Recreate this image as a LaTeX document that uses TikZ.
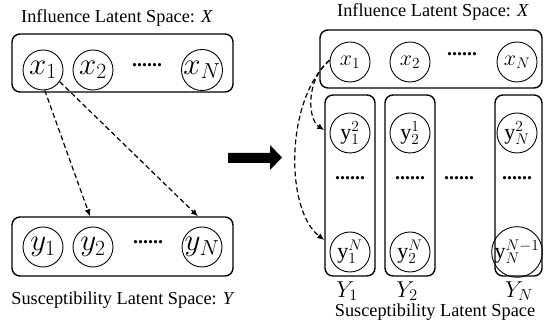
\documentclass[tikz,border=0pt]{standalone}
\usepackage{fix-cm}
\usepackage{fontspec}
\setmainfont{Liberation Serif}
\usetikzlibrary{arrows.meta}
\begin{document}
\begin{tikzpicture}[x=1pt,y=-1pt,
  box/.style={draw, line width=1.4pt, rounded corners=8pt, inner sep=0pt},
  var/.style={draw, circle, line width=0.9pt, minimum size=40pt, inner sep=0pt},
  bigvar/.style={var, font=\fontsize{31}{33}\selectfont},
  smallvar/.style={var, font=\fontsize{22}{24}\selectfont},
  lbl/.style={font=\fontsize{18.3}{21}\selectfont, inner sep=0pt},
  mlbl/.style={font=\fontsize{23}{25}\selectfont, inner sep=0pt},
  dots/.style={font=\fontsize{20}{22}\selectfont\bfseries, inner sep=0pt},
  dasharrow/.style={line width=1.2pt, dash pattern=on 5pt off 3pt, -{Latex[length=7pt,width=6pt]}},
]
\useasboundingbox (0,0) rectangle (544,328);

% ---------- left panel ----------
\node[lbl] (tl) at (117,18) {Influence Latent Space: \textit{X}};
\node[box, minimum width=221pt, minimum height=58pt] (Xbox) at (122.5,63) {};
\node[bigvar] (x1) at (43,70) {$x_1$};
\node[bigvar] (x2) at (93,70) {$x_2$};
\node[dots] (xd) at (147,65) {......};
\node[bigvar] (xN) at (202,70) {$x_N$};

\node[box, minimum width=221pt, minimum height=59pt] (Ybox) at (122.5,246.5) {};
\node[bigvar] (y1) at (43,247) {$y_1$};
\node[bigvar] (y2) at (93,247) {$y_2$};
\node[dots] (yd) at (148,242) {......};
\node[bigvar] (yN) at (202,247) {$y_N$};
\node[lbl] (bl) at (123,300) {Susceptibility Latent Space: \textit{Y}};

\coordinate (t2) at ([xshift=-3pt]y2.north |- Ybox.north);
\coordinate (tN) at ([xshift=-4pt]yN.north |- Ybox.north);
\draw[dasharrow] (x1.-85) -- (t2);
\draw[dasharrow] (x1.-35) -- (tN);

% ---------- big arrow ----------
\fill (228,153) -- (270,153) -- (270,145) -- (282,157.5) -- (270,170) -- (270,163) -- (228,163) -- cycle;

% ---------- right panel ----------
\node[lbl] (tr) at (433,12) {Influence Latent Space: \textit{X}};
\node[box, minimum width=222pt, minimum height=58pt] (RXbox) at (431,59) {};
\node[smallvar] (rx1) at (350,62) {$x_1$};
\node[smallvar] (rx2) at (410,62) {$x_2$};
\node[dots] (rxd) at (462,54) {......};
\node[smallvar] (rxN) at (517,62) {$x_N$};

\node[box, minimum width=50pt, minimum height=181pt] (C1) at (350,185.5) {};
\node[box, minimum width=50pt, minimum height=181pt] (C2) at (410,185.5) {};
\node[box, minimum width=47pt, minimum height=181pt] (CN) at (518.5,185.5) {};

\node[smallvar] (a1) at (350,133) {$\mathrm{y}_1^2$};
\node[smallvar] (a2) at (410,133) {$\mathrm{y}_2^1$};
\node[smallvar] (aN) at (517,133) {$\mathrm{y}_N^2$};
\node[dots] (d1) at (350,178) {......};
\node[dots] (d2) at (410,178) {......};
\node[dots] (dm) at (459,178) {......};
\node[dots] (dN) at (517,178) {......};
\node[smallvar] (b1) at (350,252) {$\mathrm{y}_1^N$};
\node[smallvar] (b2) at (410,252) {$\mathrm{y}_2^N$};
\node[smallvar] (bN) at (517,252) {$\mathrm{y}_N^{N-1}$};

\node[mlbl] (L1) at (347,291) {$Y_1$};
\node[mlbl] (L2) at (407,291) {$Y_2$};
\node[mlbl] (LN) at (519,291) {$Y_N$};
\node[lbl] (br) at (435,312) {Susceptibility Latent Space};

\coordinate (e1) at (C1.west |- 0,130);
\coordinate (e2) at (C1.west |- 0,240);
\draw[dasharrow] (rx1.175) .. controls (305,80) and (308,120) .. (e1);
\draw[dasharrow] (rx1.175) .. controls (285,100) and (285,210) .. (e2);
\end{tikzpicture}
\end{document}
